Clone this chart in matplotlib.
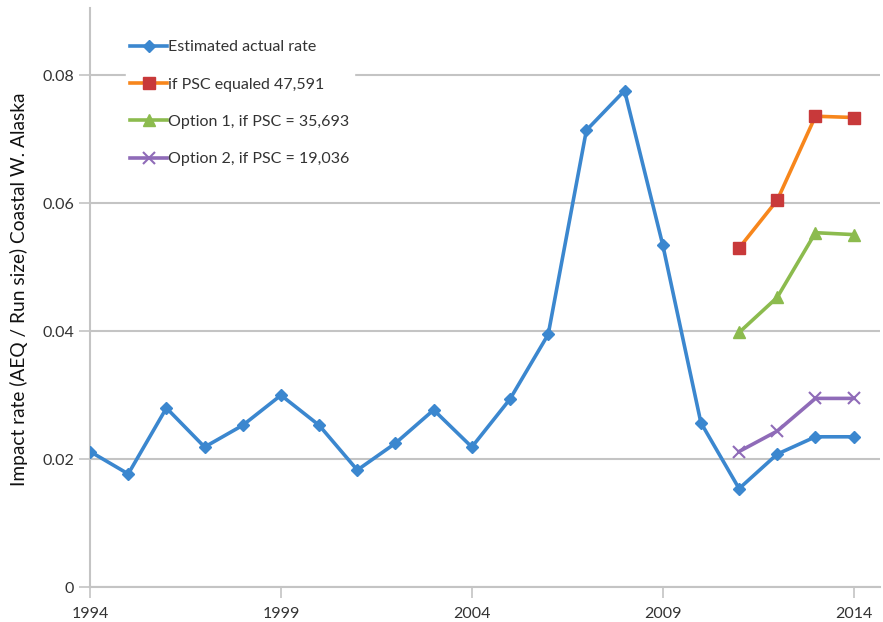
import matplotlib.pyplot as plt

plt.rcParams['font.family'] = ['Lato', 'DejaVu Sans']

# datos
years = list(range(1994, 2015))
actual = [0.0212, 0.0177, 0.0280, 0.0219, 0.0253, 0.0300, 0.0253, 0.0183,
          0.0225, 0.0277, 0.0219, 0.0294, 0.0395, 0.0714, 0.0776, 0.0535,
          0.0257, 0.0154, 0.0208, 0.0235, 0.0235]
opt_years = [2011, 2012, 2013, 2014]
psc_47591 = [0.0530, 0.0605, 0.0736, 0.0734]
opt1_35693 = [0.0398, 0.0453, 0.0554, 0.0551]
opt2_19036 = [0.0212, 0.0244, 0.0295, 0.0295]

xticks = [1994, 1999, 2004, 2009, 2014]
yticks = [0, 0.02, 0.04, 0.06, 0.08]
ytick_labels = ['0', '0.02', '0.04', '0.06', '0.08']

fig = plt.figure(figsize=(8.83, 6.22), dpi=100)
ax = fig.add_axes([0.102, 0.056, 0.895, 0.931])

ax.plot(years, actual, color='#3b87cf', lw=2.6, marker='D', ms=6,
        label='Estimated actual rate', zorder=3)
ax.plot(opt_years, psc_47591, color='#f7861c', lw=2.6, marker='s', ms=8,
        mfc='#c8393a', mec='#c8393a', label='if PSC equaled 47,591', zorder=3)
ax.plot(opt_years, opt1_35693, color='#8cbb4e', lw=2.6, marker='^', ms=8,
        label='Option 1, if PSC = 35,693', zorder=3)
ax.plot(opt_years, opt2_19036, color='#8f6bb8', lw=2.6, marker='x', ms=8,
        mew=1.5, label='Option 2, if PSC = 19,036', zorder=3)

ax.set_xlim(1994, 2014.7)
ax.set_ylim(0, 0.0905)
ax.set_xticks(xticks)
ax.set_yticks(yticks)
ax.set_yticklabels(ytick_labels)
ax.yaxis.grid(True, color='#c4c4c4', lw=1.5)
ax.set_axisbelow(True)

for s in ['top', 'right']:
    ax.spines[s].set_visible(False)
for s in ['left', 'bottom']:
    ax.spines[s].set_color('#c4c4c4')
    ax.spines[s].set_linewidth(1.5)
ax.tick_params(colors='#c4c4c4', length=8, width=1.2, labelcolor='#333333',
               labelsize=11.5)
ax.tick_params(axis='x', pad=6)

# etiqueta del eje y colocada a mano en la figura
fig.text(0.021, 0.535, 'Impact rate (AEQ / Run size) Coastal W. Alaska',
         rotation=90, ha='center', va='center', fontsize=13.8, color='#111111')

leg = ax.legend(loc='upper left', bbox_to_anchor=(0.045, 0.953), frameon=True,
                fontsize=11.5, handlelength=2.3, handletextpad=0.05,
                labelspacing=1.45, borderaxespad=0, borderpad=0.3)
leg.get_frame().set_edgecolor('white')
leg.get_frame().set_facecolor('white')
leg.get_frame().set_alpha(1)
for t in leg.get_texts():
    t.set_color('#333333')

fig.savefig('out.png', dpi=100)
